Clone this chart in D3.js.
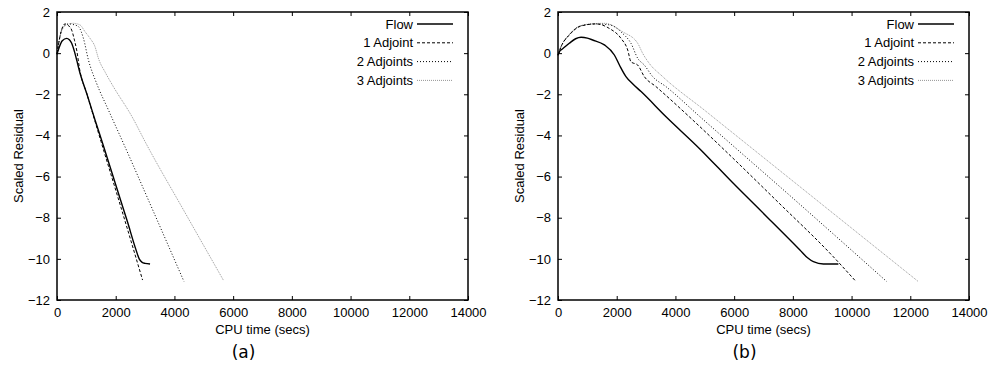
<!DOCTYPE html>
<html>
<head>
<meta charset="utf-8">
<script src="https://cdn.jsdelivr.net/npm/d3@7"></script>
<style>
  body { margin: 0; background: #fff; }
  svg text { font-family: "Liberation Sans", Arial, Helvetica, sans-serif; }
</style>
</head>
<body>
<div id="chart"></div>
<script>
// series names, x ticks, y ticks
var seriesNames = ["Flow", "1 Adjoint", "2 Adjoints", "3 Adjoints"];
var xTicks = [0, 2000, 4000, 6000, 8000, 10000, 12000, 14000];
var yTicks = [2, 0, -2, -4, -6, -8, -10, -12];

// panel (a): [cpu secs, scaled residual]
var flowA = [[0,-0.05],[80,0.3],[180,0.6],[330,0.72],[420,0.65],[500,0.48],[600,0.05],[670,-0.33],[785,-0.98],
    [1010,-1.95],[1295,-3.25],[1580,-4.5],[2000,-6.4],[2400,-8.2],[2700,-9.6],[2800,-10.0],[2900,-10.17],[3000,-10.22],[3170,-10.25]];
var adj1A = [[0,-0.05],[60,0.5],[150,1.1],[270,1.42],[380,1.35],[500,1.12],[600,0.6],[670,0.15],[785,-0.9],
    [1000,-1.9],[1500,-4.3],[2200,-7.6],[2915,-11.03]];
var adj2A = [[0,-0.05],[60,0.5],[150,1.1],[280,1.38],[410,1.42],[580,1.38],[730,1.29],[900,0.72],[1070,-0.33],
    [1350,-1.47],[1750,-2.76],[2315,-4.55],[3300,-7.75],[4325,-11.1]];
var adj3A = [[0,-0.05],[60,0.5],[150,1.05],[300,1.35],[555,1.45],[785,1.37],[950,1.05],[1125,0.72],[1295,0.31],
    [1410,-0.25],[1650,-0.95],[1920,-1.63],[2540,-3.05],[3055,-4.45],[4300,-7.6],[5665,-11.03]];

// panel (b)
var flowB = [[0,-0.1],[60,0.1],[150,0.2],[385,0.48],[600,0.7],[785,0.77],[1000,0.73],[1180,0.64],[1580,0.4],
    [1920,-0.09],[2100,-0.6],[2315,-1.14],[2550,-1.5],[2830,-1.87],[3680,-3.09],[4815,-4.63],[5970,-6.33],
    [7110,-7.95],[8240,-9.57],[8500,-9.95],[8700,-10.14],[9040,-10.25],[9550,-10.25]];
var adj1B = [[0,-0.1],[100,0.3],[385,0.88],[785,1.32],[1295,1.42],[1750,1.2],[2145,0.72],[2375,0.15],[2485,-0.42],
    [2715,-0.58],[2940,-1.14],[3340,-1.63],[4470,-3.09],[5495,-4.47],[7500,-7.25],[9380,-9.9],[10150,-11.1]];
var adj2B = [[0,-0.1],[100,0.3],[385,0.9],[785,1.33],[1295,1.42],[1770,1.37],[2200,0.96],[2485,0.48],[2715,-0.25],
    [2940,-0.58],[3225,-1.14],[3680,-1.63],[4835,-3.09],[8000,-7.05],[11195,-11.1]];
var adj3B = [[0,-0.1],[100,0.3],[385,0.9],[785,1.34],[1295,1.44],[1600,1.45],[2200,1.04],[2715,0.48],[2885,-0.01],
    [3110,-0.5],[3565,-1.14],[5005,-2.79],[8920,-7.27],[12270,-11.1]];

var width = 989, height = 365,
    plotTop = 12, plotBottom = 300, plotWidth = 411;

var styles = [
    {stroke: "#000", width: 1.4, dash: null},
    {stroke: "#000", width: 1, dash: "3,2"},
    {stroke: "#000", width: 1, dash: "1,2"},
    {stroke: "#8a8a8a", width: 0.9, dash: "1,1"}
];

var svg = d3.select("#chart").append("svg")
    .attr("width", width)
    .attr("height", height);

function drawPanel(left, series, caption) {
    var right = left + plotWidth;
    var x = d3.scaleLinear().domain([0, 14000]).range([left, right]);
    var y = d3.scaleLinear().domain([-12, 2]).range([plotBottom, plotTop]);
    var g = svg.append("g");

    g.append("g")
        .attr("transform", "translate(0," + plotBottom + ")")
        .call(d3.axisBottom(x).tickValues(xTicks).tickFormat(d3.format("d"))
            .tickSizeInner(-4).tickSizeOuter(0).tickPadding(8));
    g.append("g")
        .attr("transform", "translate(" + left + ",0)")
        .call(d3.axisLeft(y).tickValues(yTicks).tickFormat(d3.format("d"))
            .tickSizeInner(-4).tickSizeOuter(0).tickPadding(7));
    g.append("g")
        .attr("transform", "translate(0," + plotTop + ")")
        .call(d3.axisTop(x).tickValues(xTicks).tickSizeInner(-4).tickSizeOuter(0).tickFormat(""));
    g.append("g")
        .attr("transform", "translate(" + right + ",0)")
        .call(d3.axisRight(y).tickValues(yTicks).tickSizeInner(-4).tickSizeOuter(0).tickFormat(""));

    g.selectAll(".domain").remove();
    g.selectAll(".tick line").attr("stroke", "#000").attr("stroke-width", 1);
    g.selectAll(".tick text")
        .attr("fill", "#000")
        .style("font-size", "13px")
        .style("font-family", "'Liberation Sans', Arial, sans-serif");

    g.append("rect")
        .attr("x", left).attr("y", plotTop)
        .attr("width", plotWidth).attr("height", plotBottom - plotTop)
        .attr("fill", "none").attr("stroke", "#000").attr("stroke-width", 1.5);

    var line = d3.line()
        .x(function(d) { return x(d[0]); })
        .y(function(d) { return y(d[1]); })
        .curve(d3.curveMonotoneX);

    // draw lightest first so flow sits on top
    for (var i = series.length - 1; i >= 0; i--) {
        g.append("path")
            .datum(series[i])
            .attr("d", line)
            .attr("fill", "none")
            .attr("stroke", styles[i].stroke)
            .attr("stroke-width", styles[i].width)
            .attr("stroke-dasharray", styles[i].dash);
    }

    // legend
    seriesNames.forEach(function(name, i) {
        var ly = 24 + i * 18.8;
        g.append("text")
            .attr("x", right - 55).attr("y", ly).attr("dy", "0.35em")
            .attr("text-anchor", "end")
            .style("font-size", "13px")
            .text(name);
        g.append("line")
            .attr("x1", right - 51).attr("x2", right - 15)
            .attr("y1", ly).attr("y2", ly)
            .attr("stroke", styles[i].stroke)
            .attr("stroke-width", styles[i].width)
            .attr("stroke-dasharray", styles[i].dash);
    });

    g.append("text")
        .attr("x", (left + right) / 2).attr("y", 334)
        .attr("text-anchor", "middle")
        .style("font-size", "13px")
        .text("CPU time (secs)");

    g.append("text")
        .attr("transform", "translate(" + (left - 39) + "," + ((plotTop + plotBottom) / 2) + ") rotate(-90)")
        .attr("text-anchor", "middle")
        .attr("dy", "0.35em")
        .style("font-size", "13px")
        .text("Scaled Residual");

    g.append("text")
        .attr("x", (left + right) / 2 - 19).attr("y", 358)
        .attr("text-anchor", "middle")
        .style("font-family", "'DejaVu Sans', sans-serif")
        .style("font-size", "17px")
        .text(caption);
}

drawPanel(57, [flowA, adj1A, adj2A, adj3A], "(a)");
drawPanel(558, [flowB, adj1B, adj2B, adj3B], "(b)");
</script>
</body>
</html>
